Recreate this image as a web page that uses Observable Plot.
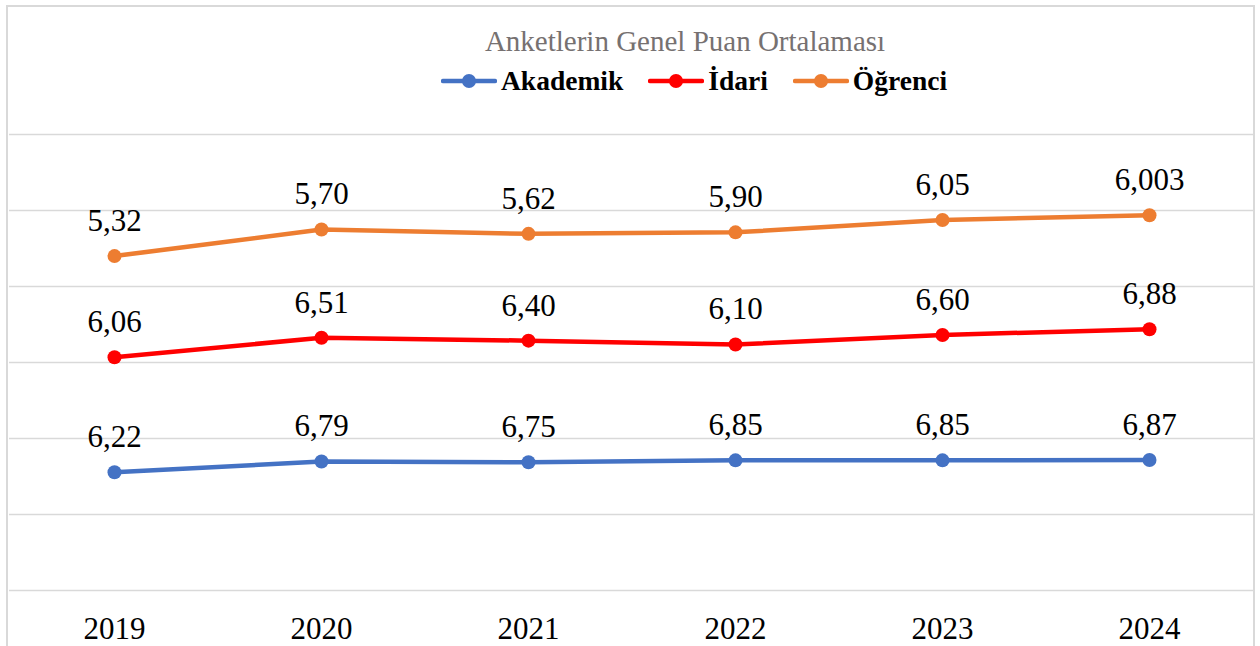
<!DOCTYPE html>
<html>
<head>
<meta charset="utf-8">
<script src="https://cdn.jsdelivr.net/npm/d3@7"></script>
<script src="https://cdn.jsdelivr.net/npm/@observablehq/plot@0.6"></script>
<style>
  html, body { margin: 0; padding: 0; background: #fff; width: 1260px; height: 646px; overflow: hidden; }
  #frame { position: absolute; left: 6px; top: 5px; width: 1245px; height: 700px; border: 2px solid #d9d9d9; pointer-events: none; z-index: 2; }
  #title { position: absolute; left: 685px; top: 27px; transform: translateX(-50%); font-family: "Liberation Serif", "Times New Roman", serif; font-size: 29px; line-height: 29px; color: #767171; white-space: nowrap; }
  #legend { position: absolute; left: 441px; top: 67px; display: flex; align-items: center; font-family: "Liberation Serif", "Times New Roman", serif; font-weight: bold; font-size: 27.5px; line-height: 27.5px; color: #000; white-space: nowrap; }
  .item { display: flex; align-items: center; margin-right: 25px; }
  .item svg { margin-right: 4px; }
  #chart { position: absolute; left: 0; top: 100px; }
</style>
</head>
<body>
<div id="frame"></div>
<div id="title"></div>
<div id="legend"></div>
<div id="chart"></div>
<script>
const title = "Anketlerin Genel Puan Ortalaması";
const years = ["2019", "2020", "2021", "2022", "2023", "2024"];
const seriesNames = ["Akademik", "İdari", "Öğrenci"];
const seriesColors = ["#4472C4", "#FF0000", "#ED7D31"];
const akademik = [6.22, 6.79, 6.75, 6.85, 6.85, 6.87];
const idari = [6.06, 6.51, 6.40, 6.10, 6.60, 6.88];
const ogrenci = [5.32, 5.70, 5.62, 5.90, 6.05, 6.003];
const yTicks = [0, 4, 8, 12, 16, 20, 24];

function fmt(v) {
  let s = String(v);
  const dec = s.includes(".") ? s.split(".")[1].length : 0;
  if (dec < 2) s = v.toFixed(2);
  return s.replace(".", ",");
}

const valuesBySeries = [akademik, idari, ogrenci];
const data = [];
seriesNames.forEach((name, i) => {
  years.forEach((y, j) => {
    data.push({series: name, year: y, value: valuesBySeries[i][j], label: fmt(valuesBySeries[i][j])});
  });
});

document.getElementById("title").textContent = title;
const legend = document.getElementById("legend");
seriesNames.forEach((name, i) => {
  const item = document.createElement("div");
  item.className = "item";
  item.innerHTML = `<svg width="56" height="20"><line x1="2" x2="54" y1="10" y2="10" stroke="${seriesColors[i]}" stroke-width="4.5" stroke-linecap="round"/><circle cx="28" cy="10" r="7" fill="${seriesColors[i]}"/></svg><span>${name}</span>`;
  legend.appendChild(item);
});

const font = "'Liberation Serif', 'Times New Roman', serif";
const chart = Plot.plot({
  width: 1260,
  height: 546,
  marginLeft: 9,
  marginRight: 7,
  marginTop: 34,
  marginBottom: 56,
  style: {background: "transparent", fontFamily: font, fontSize: "31px", color: "#000"},
  x: {type: "point", domain: years, padding: 0.5, tickSize: 0, tickPadding: 26, label: null},
  y: {domain: [0, 24], axis: null},
  color: {domain: seriesNames, range: seriesColors},
  marks: [
    Plot.ruleY(yTicks, {stroke: "#d9d9d9", strokeWidth: 1.5}),
    Plot.lineY(data, Plot.stackY2({x: "year", y: "value", z: "series", stroke: "series", strokeWidth: 4.5})),
    Plot.dot(data, Plot.stackY2({x: "year", y: "value", z: "series", fill: "series", r: 7})),
    Plot.text(data, Plot.stackY2({x: "year", y: "value", z: "series", text: "label", dy: -35, fontSize: 31, fill: "#000"}))
  ]
});
document.getElementById("chart").appendChild(chart);
</script>
</body>
</html>
